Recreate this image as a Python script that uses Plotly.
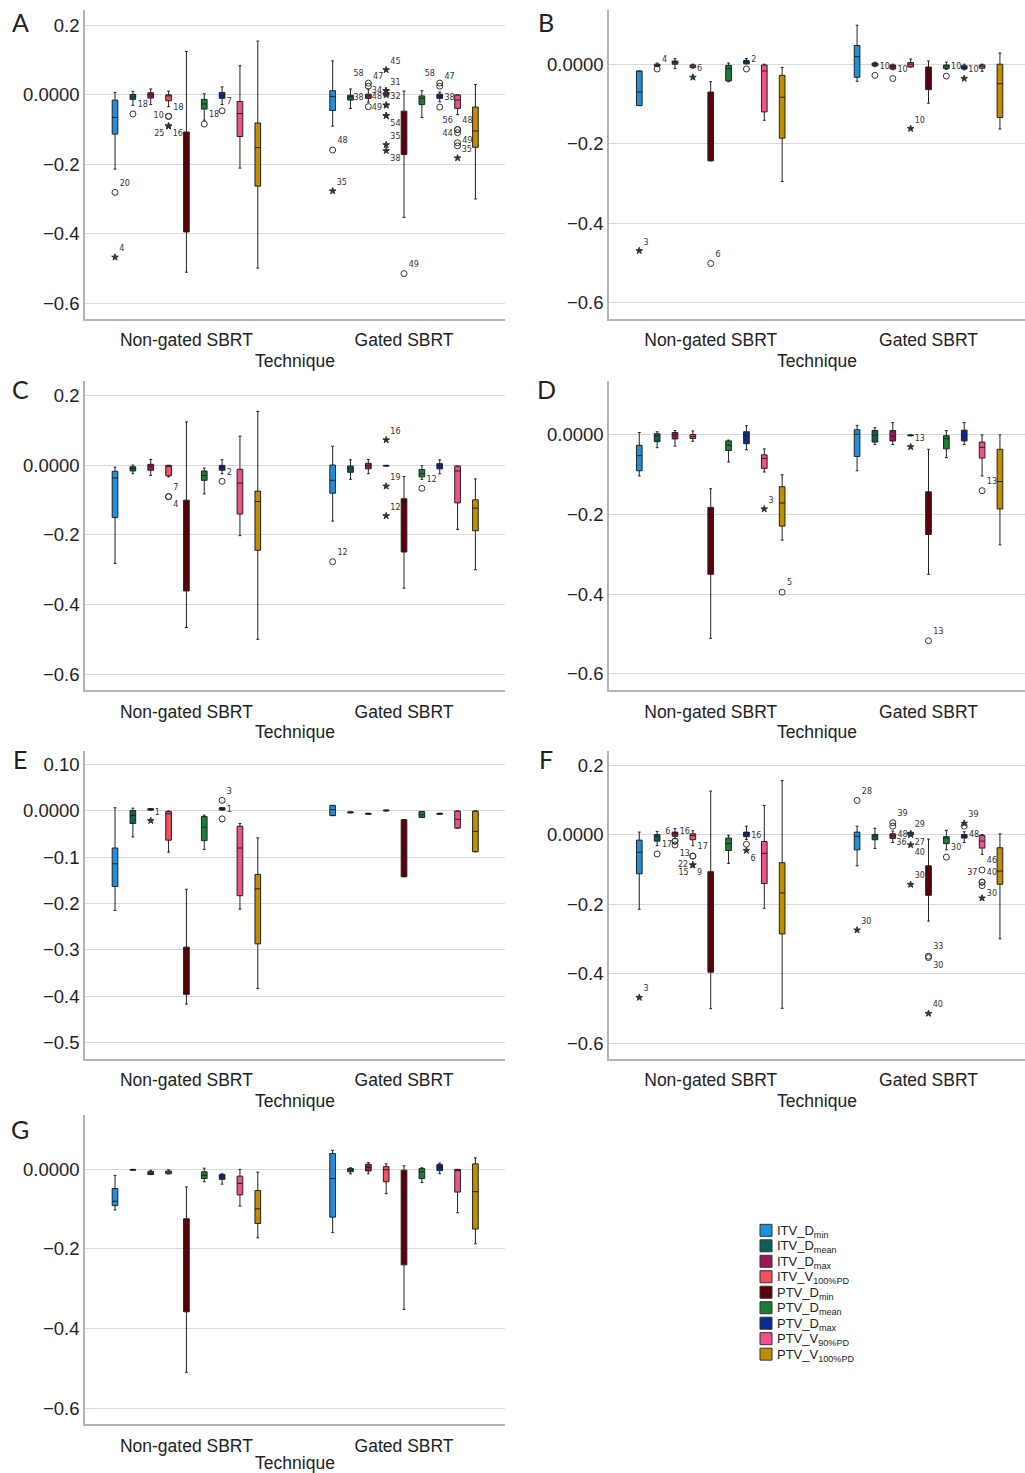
import plotly.graph_objects as go

# ---------------- DATA ----------------
GROUPS = ["Non-gated SBRT", "Gated SBRT"]
SERIES = ["ITV_D<sub>min</sub>", "ITV_D<sub>mean</sub>", "ITV_D<sub>max</sub>", "ITV_V<sub>100%PD</sub>",
          "PTV_D<sub>min</sub>", "PTV_D<sub>mean</sub>", "PTV_D<sub>max</sub>", "PTV_V<sub>90%PD</sub>",
          "PTV_V<sub>100%PD</sub>"]

# each row: (lower whisker, q1, median, q3, upper whisker), one row per series
A_nongated = [(-0.214, -0.113, -0.065, -0.015, 0.007), (-0.030, -0.013, -0.006, 0.001, 0.010),
              (-0.028, -0.009, 0.000, 0.006, 0.017), (-0.034, -0.017, -0.002, 0.000, 0.011),
              (-0.511, -0.395, -0.202, -0.107, 0.125), (-0.073, -0.041, -0.026, -0.013, 0.003),
              (-0.028, -0.010, -0.001, 0.007, 0.023), (-0.211, -0.120, -0.054, -0.019, 0.084),
              (-0.499, -0.263, -0.152, -0.081, 0.155)]
A_gated = [(-0.090, -0.045, -0.005, 0.012, 0.098), (-0.039, -0.015, -0.005, -0.001, 0.017),
           (-0.021, -0.010, -0.003, 0.002, 0.017), (-0.001, -0.001, 0.000, 0.001, 0.001),
           (-0.353, -0.172, -0.121, -0.047, 0.011), (-0.065, -0.028, -0.010, -0.003, 0.012),
           (-0.020, -0.010, -0.003, 0.002, 0.008), (-0.057, -0.039, -0.015, 0.000, 0.000),
           (-0.300, -0.151, -0.104, -0.035, 0.030)]
B_nongated = [(-0.104, -0.104, -0.070, -0.017, -0.017), (-0.006, -0.005, -0.002, 0.000, 0.003),
              (-0.011, 0.000, 0.005, 0.008, 0.014), (-0.010, -0.008, -0.005, -0.002, 0.000),
              (-0.243, -0.243, -0.092, -0.070, -0.044), (-0.044, -0.042, -0.011, -0.003, 0.003),
              (0.001, 0.001, 0.006, 0.009, 0.014), (-0.141, -0.120, -0.017, -0.002, 0.000),
              (-0.295, -0.186, -0.083, -0.028, -0.008)]
B_gated = [(-0.043, -0.033, 0.019, 0.047, 0.098), (-0.006, -0.004, 0.000, 0.003, 0.005),
           (-0.014, -0.012, -0.006, -0.002, 0.000), (-0.007, -0.007, 0.000, 0.004, 0.013),
           (-0.098, -0.064, -0.019, -0.007, 0.008), (-0.013, -0.011, -0.004, -0.002, 0.005),
           (-0.014, -0.012, -0.007, -0.004, 0.000), (-0.018, -0.010, -0.005, -0.002, 0.000),
           (-0.163, -0.134, -0.049, 0.000, 0.028)]
C_nongated = [(-0.282, -0.150, -0.036, -0.017, -0.005), (-0.024, -0.016, -0.009, -0.004, 0.001),
              (-0.029, -0.014, -0.003, 0.003, 0.017), (-0.033, -0.030, -0.001, 0.000, 0.000),
              (-0.466, -0.361, -0.145, -0.100, 0.125), (-0.082, -0.043, -0.029, -0.016, -0.008),
              (-0.024, -0.014, -0.005, 0.000, 0.016), (-0.202, -0.140, -0.051, -0.011, 0.084),
              (-0.500, -0.244, -0.104, -0.074, 0.155)]
C_gated = [(-0.160, -0.080, -0.043, 0.001, 0.055), (-0.040, -0.020, -0.010, -0.002, 0.016),
           (-0.024, -0.010, -0.001, 0.006, 0.017), (-0.002, -0.002, -0.001, 0.000, 0.000),
           (-0.353, -0.249, -0.113, -0.096, -0.032), (-0.040, -0.033, -0.024, -0.012, -0.001),
           (-0.024, -0.010, -0.003, 0.005, 0.016), (-0.184, -0.108, -0.016, -0.002, -0.002),
           (-0.300, -0.188, -0.123, -0.099, -0.039)]
D_nongated = [(-0.103, -0.090, -0.052, -0.026, 0.006), (-0.032, -0.017, -0.002, 0.003, 0.008),
              (-0.028, -0.010, 0.000, 0.006, 0.011), (-0.016, -0.009, -0.004, 0.001, 0.010),
              (-0.511, -0.350, -0.212, -0.182, -0.135), (-0.068, -0.039, -0.026, -0.015, -0.013),
              (-0.037, -0.022, -0.003, 0.008, 0.023), (-0.093, -0.084, -0.059, -0.050, -0.035),
              (-0.264, -0.229, -0.171, -0.130, -0.100)]
D_gated = [(-0.090, -0.054, 0.002, 0.013, 0.024), (-0.024, -0.018, -0.001, 0.011, 0.018),
           (-0.024, -0.015, -0.003, 0.011, 0.031), (-0.002, -0.002, -0.001, 0.000, 0.000),
           (-0.350, -0.250, -0.170, -0.143, -0.036), (-0.057, -0.035, -0.009, -0.002, 0.011),
           (-0.024, -0.015, -0.003, 0.012, 0.031), (-0.103, -0.058, -0.031, -0.018, 0.000),
           (-0.276, -0.186, -0.117, -0.036, 0.000)]
E_nongated = [(-0.215, -0.163, -0.114, -0.080, 0.007), (-0.056, -0.027, -0.010, 0.001, 0.006),
              (0.002, 0.002, 0.003, 0.005, 0.005), (-0.089, -0.063, -0.006, -0.001, 0.000),
              (-0.417, -0.396, -0.305, -0.294, -0.169), (-0.083, -0.064, -0.035, -0.012, -0.009),
              (0.002, 0.002, 0.005, 0.007, 0.007), (-0.212, -0.183, -0.080, -0.033, -0.027),
              (-0.383, -0.287, -0.168, -0.137, -0.058)]
E_gated = [(-0.010, -0.010, 0.003, 0.012, 0.012), (-0.004, -0.004, -0.003, -0.002, -0.002),
           (-0.007, -0.007, -0.006, -0.005, -0.005), (0.000, 0.000, 0.001, 0.002, 0.002),
           (-0.142, -0.142, -0.081, -0.019, -0.019), (-0.014, -0.014, -0.008, -0.001, -0.001),
           (-0.007, -0.007, -0.006, -0.005, -0.005), (-0.037, -0.037, -0.018, 0.000, 0.000),
           (-0.088, -0.088, -0.044, 0.000, 0.000)]
F_nongated = [(-0.215, -0.113, -0.051, -0.016, 0.007), (-0.032, -0.019, -0.006, 0.000, 0.009),
              (-0.012, -0.005, 0.002, 0.007, 0.017), (-0.032, -0.015, -0.003, 0.002, 0.011),
              (-0.501, -0.396, -0.209, -0.107, 0.125), (-0.083, -0.046, -0.026, -0.010, -0.002),
              (-0.014, -0.006, 0.002, 0.007, 0.024), (-0.212, -0.141, -0.054, -0.020, 0.084),
              (-0.500, -0.286, -0.168, -0.081, 0.155)]
F_gated = [(-0.090, -0.044, -0.005, 0.007, 0.024), (-0.040, -0.015, -0.005, 0.000, 0.018),
           (-0.023, -0.011, -0.004, 0.002, 0.010), (-0.001, -0.001, 0.000, 0.000, 0.000),
           (-0.249, -0.175, -0.140, -0.090, -0.013), (-0.044, -0.026, -0.010, -0.006, 0.012),
           (-0.023, -0.010, -0.005, 0.000, 0.008), (-0.057, -0.039, -0.019, -0.003, 0.000),
           (-0.300, -0.143, -0.105, -0.038, 0.002)]
G_nongated = [(-0.102, -0.091, -0.080, -0.048, -0.015), (-0.002, -0.002, -0.001, 0.000, 0.000),
              (-0.013, -0.013, -0.010, -0.005, -0.002), (-0.011, -0.011, -0.007, -0.004, -0.001),
              (-0.510, -0.358, -0.204, -0.124, -0.044), (-0.031, -0.023, -0.015, -0.006, 0.003),
              (-0.037, -0.025, -0.018, -0.013, -0.011), (-0.092, -0.064, -0.035, -0.017, 0.000),
              (-0.172, -0.136, -0.099, -0.053, -0.007)]
G_gated = [(-0.159, -0.120, -0.023, 0.040, 0.048), (-0.011, -0.006, -0.002, 0.002, 0.004),
           (-0.011, -0.004, 0.005, 0.013, 0.017), (-0.061, -0.031, -0.001, 0.007, 0.014),
           (-0.352, -0.240, -0.069, -0.002, 0.009), (-0.033, -0.023, -0.006, 0.002, 0.004),
           (-0.011, -0.003, 0.005, 0.012, 0.016), (-0.109, -0.057, -0.003, 0.000, 0.000),
           (-0.187, -0.150, -0.056, 0.014, 0.029)]

# outliers: (group index, series index, value, kind "o"=outlier / "*"=extreme, case label)
A_outliers = [(0, 0, -0.281, "o", "20"), (0, 0, -0.468, "*", "4"), (0, 1, -0.055, "o", "18"),
              (0, 3, -0.062, "o", "18"), (0, 3, -0.062, "o", "10"), (0, 3, -0.090, "*", "25"),
              (0, 3, -0.090, "*", "16"), (0, 5, -0.084, "o", "18"), (0, 6, -0.046, "o", "7"),
              (1, 0, -0.159, "o", "48"), (1, 0, -0.277, "*", "35"), (1, 2, 0.034, "o", "58"),
              (1, 2, 0.025, "o", "47"), (1, 2, -0.034, "o", "38"), (1, 3, 0.072, "*", "45"),
              (1, 3, 0.012, "*", "31"), (1, 3, 0.012, "*", "34"), (1, 3, 0.003, "*", ""),
              (1, 3, 0.000, "*", ""), (1, 3, -0.030, "*", "32"), (1, 3, -0.030, "*", "48"),
              (1, 3, -0.060, "*", "49"), (1, 3, -0.060, "*", "54"), (1, 3, -0.144, "*", "35"),
              (1, 3, -0.161, "*", "38"), (1, 4, -0.515, "o", "49"), (1, 6, 0.034, "o", "58"),
              (1, 6, 0.025, "o", "47"), (1, 6, -0.035, "o", "38"), (1, 7, -0.100, "o", "56"),
              (1, 7, -0.100, "o", "48"), (1, 7, -0.109, "o", "49"), (1, 7, -0.138, "o", "44"),
              (1, 7, -0.147, "o", ""), (1, 7, -0.182, "*", "35")]
B_outliers = [(0, 0, -0.469, "*", "3"), (0, 1, -0.012, "o", "4"), (0, 3, -0.033, "*", "6"),
              (0, 4, -0.501, "o", "6"), (0, 6, -0.012, "o", "2"), (1, 1, -0.028, "o", "10"),
              (1, 2, -0.036, "o", "10"), (1, 3, -0.162, "*", "10"), (1, 5, -0.030, "o", "10"),
              (1, 6, -0.036, "*", "10")]
C_outliers = [(0, 3, -0.090, "o", "7"), (0, 3, -0.090, "o", "4"), (0, 6, -0.046, "o", "2"),
              (1, 0, -0.277, "o", "12"), (1, 3, 0.073, "*", "16"), (1, 3, -0.060, "*", "19"),
              (1, 3, -0.145, "*", "12"), (1, 5, -0.066, "o", "12")]
D_outliers = [(0, 7, -0.186, "*", "3"), (0, 8, -0.395, "o", "5"), (1, 3, -0.030, "*", "13"),
              (1, 4, -0.517, "o", "13"), (1, 7, -0.140, "o", "13")]
E_outliers = [(0, 2, -0.021, "*", "1"), (0, 6, 0.023, "o", "3"), (0, 6, -0.017, "o", "1")]
F_outliers = [(0, 0, -0.469, "*", "3"), (0, 1, -0.056, "o", "17"), (0, 2, -0.019, "o", "6"),
              (0, 2, -0.019, "o", "16"), (0, 2, -0.030, "o", "13"), (0, 3, -0.062, "o", "17"),
              (0, 3, -0.062, "o", "22"), (0, 3, -0.088, "*", "15"), (0, 3, -0.088, "*", "9"),
              (0, 6, -0.028, "o", "16"), (0, 6, -0.046, "*", "6"), (1, 0, 0.098, "o", "28"),
              (1, 0, -0.275, "*", "30"), (1, 2, 0.034, "o", "39"), (1, 2, 0.024, "o", "48"),
              (1, 3, 0.003, "*", "29"), (1, 3, 0.000, "*", "27"), (1, 3, 0.000, "*", "36"),
              (1, 3, -0.030, "*", "40"), (1, 3, -0.144, "*", "30"), (1, 4, -0.350, "o", "33"),
              (1, 4, -0.354, "o", "30"), (1, 4, -0.515, "*", "40"), (1, 5, -0.065, "o", "30"),
              (1, 6, 0.032, "*", "39"), (1, 6, 0.024, "o", "48"), (1, 7, -0.102, "o", "46"),
              (1, 7, -0.137, "o", "40"), (1, 7, -0.137, "o", "37"), (1, 7, -0.147, "o", "30"),
              (1, 7, -0.183, "*", "")]
G_outliers = []

Y_TICKS_A = [0.2, 0.0, -0.2, -0.4, -0.6]
Y_TEXT_A = ["0.2", "0.0000", "\u22120.2", "\u22120.4", "\u22120.6"]
Y_TICKS_B = [0.0, -0.2, -0.4, -0.6]
Y_TEXT_B = ["0.0000", "\u22120.2", "\u22120.4", "\u22120.6"]
Y_TICKS_E = [0.1, 0.0, -0.1, -0.2, -0.3, -0.4, -0.5]
Y_TEXT_E = ["0.10", "0.0000", "\u22120.1", "\u22120.2", "\u22120.3", "\u22120.4", "\u22120.5"]

# ---------------- STYLE ----------------
COLORS = ["#1f8fe0", "#0d5f5c", "#a0145a", "#f5505a", "#5a0008", "#1b7d3a", "#0a2896", "#f0508c", "#c08c00"]
W, H = 1025, 1473
SLOT = 0.082
BOXW = 0.026
FONT = "Liberation Sans"
TXT = "#222222"

# label placement overrides (panel, outlier index) -> textposition
LABEL_POS = {
    ("A", 4): "middle left", ("A", 5): "bottom left", ("A", 6): "bottom right",
    ("A", 11): "top left", ("A", 13): "top left", ("A", 16): "middle left",
    ("A", 20): "top left", ("A", 21): "top left", ("A", 22): "bottom right",
    ("A", 24): "bottom right", ("A", 26): "top left", ("A", 29): "top left",
    ("A", 31): "bottom right", ("A", 32): "top left",
    ("C", 1): "bottom right",
    ("F", 2): "top left", ("F", 4): "bottom right", ("F", 6): "bottom left",
    ("F", 7): "bottom left", ("F", 8): "bottom right", ("F", 10): "bottom right",
    ("F", 14): "bottom right", ("F", 16): "bottom right", ("F", 17): "bottom left",
    ("F", 18): "bottom right", ("F", 21): "bottom right", ("F", 25): "bottom right",
    ("F", 28): "top left", ("F", 29): "bottom right",
}

LEFT_X = [85 / W, 505 / W]
RIGHT_X = [609 / W, 1.0]
LEFT_RANGE = [-0.466, 1.464]
RIGHT_RANGE = [-0.467, 1.443]


def ydom(top, bottom):
    return [1 - bottom / H, 1 - top / H]


PANELS = [
    ("A", A_nongated, A_gated, A_outliers, LEFT_X, LEFT_RANGE, ydom(10, 319), [-0.6446, 0.2446], Y_TICKS_A, Y_TEXT_A, (20, 22)),
    ("B", B_nongated, B_gated, B_outliers, RIGHT_X, RIGHT_RANGE, ydom(10, 319), [-0.6395, 0.1363], Y_TICKS_B, Y_TEXT_B, (546, 22)),
    ("C", C_nongated, C_gated, C_outliers, LEFT_X, LEFT_RANGE, ydom(381.7, 690.7), [-0.645, 0.242], Y_TICKS_A, Y_TEXT_A, (20, 390)),
    ("D", D_nongated, D_gated, D_outliers, RIGHT_X, RIGHT_RANGE, ydom(381.7, 690.7), [-0.640, 0.135], Y_TICKS_B, Y_TEXT_B, (546, 390)),
    ("E", E_nongated, E_gated, E_outliers, LEFT_X, LEFT_RANGE, ydom(751.7, 1060), [-0.5346, 0.1302], Y_TICKS_E, Y_TEXT_E, (20, 760)),
    ("F", F_nongated, F_gated, F_outliers, RIGHT_X, RIGHT_RANGE, ydom(751.7, 1060), [-0.6446, 0.2413], Y_TICKS_A, Y_TEXT_A, (546, 760)),
    ("G", G_nongated, G_gated, G_outliers, LEFT_X, LEFT_RANGE, ydom(1116.7, 1425.7), [-0.6395, 0.1363], Y_TICKS_B, Y_TEXT_B, (20, 1131)),
]


def pos(g, s):
    return g + (s - 4) * SLOT


fig = go.Figure()
layout = {}
annotations = []
shapes = []

for k, (key, ng, gd, outs, xdom, xr, yd, yr, yt, ytt, lpos) in enumerate(PANELS, start=1):
    sfx = "" if k == 1 else str(k)
    xa, ya = "x" + sfx, "y" + sfx
    for s in range(9):
        fig.add_trace(go.Box(
            x=[pos(0, s), pos(1, s)],
            lowerfence=[ng[s][0], gd[s][0]],
            q1=[ng[s][1], gd[s][1]],
            median=[ng[s][2], gd[s][2]],
            q3=[ng[s][3], gd[s][3]],
            upperfence=[ng[s][4], gd[s][4]],
            width=BOXW, whiskerwidth=0.5,
            fillcolor=COLORS[s], line=dict(color="#222222", width=1),
            name=SERIES[s], showlegend=False, boxpoints=False,
            xaxis=xa, yaxis=ya,
        ))
    for kind, sym, size in (("o", "circle-open", 6), ("*", "star", 5)):
        for labelled in (True, False):
            idx = [i for i, o in enumerate(outs) if o[3] == kind and (o[4] != "") == labelled]
            if not idx:
                continue
            tr = dict(
                x=[pos(outs[i][0], outs[i][1]) for i in idx],
                y=[outs[i][2] for i in idx],
                marker=dict(symbol=sym, size=size, color="#333333", line=dict(width=1, color="#333333")),
                showlegend=False, cliponaxis=False, xaxis=xa, yaxis=ya,
            )
            if labelled:
                tr.update(mode="markers+text",
                          text=[outs[i][4] for i in idx],
                          textposition=[LABEL_POS.get((key, i), "top right") for i in idx],
                          textfont=dict(size=8, color="#333333", family="DejaVu Sans"))
            else:
                tr.update(mode="markers")
            fig.add_trace(go.Scatter(**tr))
    layout["xaxis" + sfx] = dict(
        domain=xdom, range=xr, anchor=ya, tickvals=[0, 1], ticktext=GROUPS,
        showgrid=False, zeroline=False, showline=True, linecolor="#b4b4b4", linewidth=1.5,
        ticks="", ticklabelstandoff=5, tickfont=dict(size=17.5, color=TXT, family=FONT),
        title=dict(text="Technique", standoff=5, font=dict(size=17.5, color=TXT, family=FONT)),
    )
    layout["yaxis" + sfx] = dict(
        domain=yd, range=yr, anchor=xa, tickvals=yt, ticktext=ytt,
        showgrid=True, gridcolor="#d9d9d9", gridwidth=1, zeroline=False,
        showline=True, linecolor="#b4b4b4", linewidth=1.5, ticks="",
        tickfont=dict(size=18.5, color=TXT, family=FONT),
    )
    annotations.append(dict(text=key, x=lpos[0] / W, y=1 - lpos[1] / H, xref="paper", yref="paper",
                            showarrow=False, xanchor="center", yanchor="middle",
                            font=dict(size=25, color=TXT, family="Lato")))

# legend drawn as swatches + labels (positions in page pixels)
LEG_X, LEG_Y0, LEG_STEP, SW = 760, 1232, 15.5, 12
for s, name in enumerate(SERIES):
    yc = LEG_Y0 + s * LEG_STEP
    shapes.append(dict(type="rect", xref="paper", yref="paper",
                       x0=LEG_X / W, x1=(LEG_X + SW) / W,
                       y0=1 - (yc + SW / 2) / H, y1=1 - (yc - SW / 2) / H,
                       fillcolor=COLORS[s], line=dict(color="#333333", width=1)))
    annotations.append(dict(text=name, x=(LEG_X + SW + 3) / W, y=1 - (yc + 1) / H,
                            xref="paper", yref="paper", showarrow=False,
                            xanchor="left", yanchor="middle",
                            font=dict(size=13, color=TXT, family=FONT)))

fig.update_layout(
    **layout,
    width=W, height=H, margin=dict(l=0, r=0, t=0, b=0),
    paper_bgcolor="white", plot_bgcolor="white",
    boxmode="overlay", annotations=annotations, shapes=shapes, showlegend=False,
)

fig.write_html("out.html", config={"displayModeBar": False},
               post_script="document.body.style.margin='0';document.body.style.overflow='hidden';")
